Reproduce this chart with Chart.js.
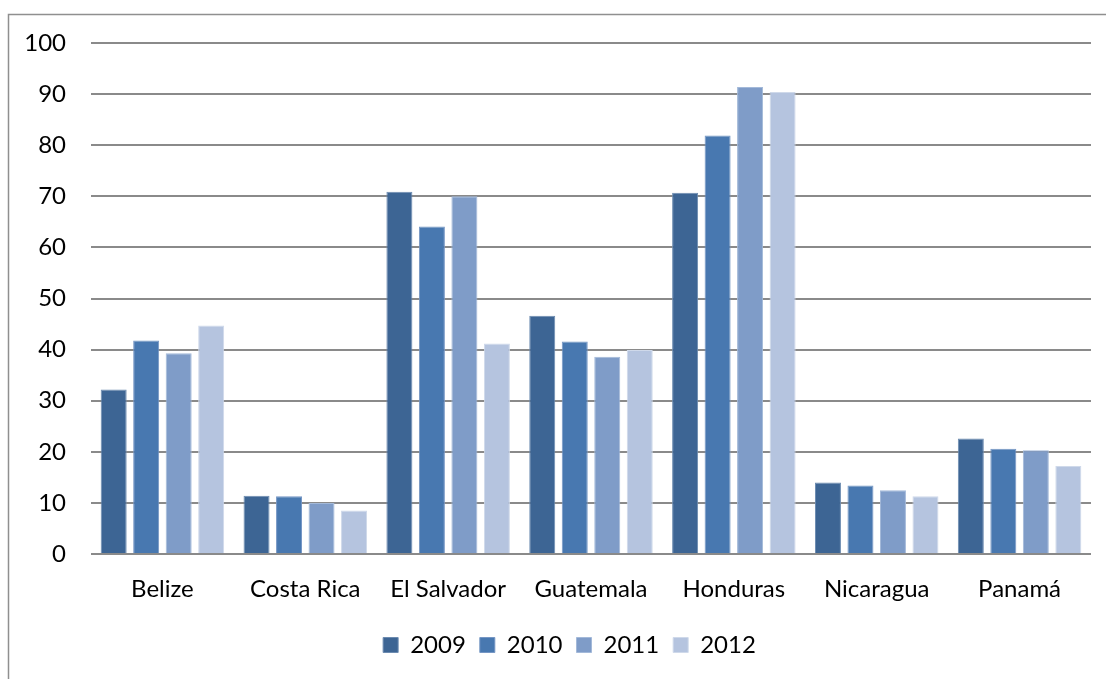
<!DOCTYPE html>
<html>
<head>
<meta charset="utf-8">
<script src="https://cdn.jsdelivr.net/npm/chart.js@4"></script>
<style>
    html, body { margin: 0; padding: 0; background: #fff; }
    #wrap { width: 1106px; height: 679px; position: relative; }
</style>
</head>
<body>
<div id="wrap"><canvas id="myChart" width="1106" height="679"></canvas></div>
<script>
'use strict';
var countries = ['Belize', 'Costa Rica', 'El Salvador', 'Guatemala', 'Honduras', 'Nicaragua', 'Panamá'];
var years = ['2009', '2010', '2011', '2012'];
var values2009 = [32.2, 11.4, 70.9, 46.6, 70.7, 14.0, 22.6];
var values2010 = [41.8, 11.3, 64.1, 41.6, 81.9, 13.4, 20.6];
var values2011 = [39.3, 10.0, 70.0, 38.6, 91.4, 12.5, 20.3];
var values2012 = [44.7, 8.5, 41.2, 39.9, 90.4, 11.3, 17.2];
var yTicks = [0, 10, 20, 30, 40, 50, 60, 70, 80, 90, 100];

var colors = ['#3d6594', '#4878b0', '#7f9cc8', '#b5c4df'];
var edges = ['#6c8bb0', '#7596c4', '#a3b9d9', '#cfd9ea'];
var series = [values2009, values2010, values2011, values2012];

var font = "Lato, 'Open Sans', sans-serif";

// outer frame like the excel chart area
var frame = {
    id: 'frame',
    beforeDraw: function (chart) {
        var ctx = chart.ctx;
        ctx.save();
        ctx.fillStyle = '#fff';
        ctx.fillRect(0, 0, chart.width, chart.height);
        ctx.strokeStyle = '#8f8f8f';
        ctx.lineWidth = 1.5;
        ctx.strokeRect(8.5, 14.5, chart.width + 20, chart.height + 20);
        ctx.restore();
    }
};

// excel centres the legend under the plot, not the whole canvas
var legendShift = {
    id: 'legendShift',
    afterLayout: function (chart) {
        chart.legend.left += 48;
    }
};

var ctx = document.getElementById('myChart');
var myChart = new Chart(ctx, {
    type: 'bar',
    data: {
        labels: countries,
        datasets: years.map(function (y, i) {
            return {
                label: y,
                data: series[i],
                backgroundColor: colors[i],
                borderColor: edges[i],
                borderWidth: 1,
                categoryPercentage: 0.91,
                barPercentage: 0.8
            };
        })
    },
    options: {
        responsive: false,
        animation: false,
        layout: { padding: { left: 0, right: 15, top: 43, bottom: 12 } },
        plugins: {
            tooltip: { enabled: false },
            legend: {
                position: 'bottom',
                labels: {
                    color: '#000',
                    font: { family: font, size: 24 },
                    boxWidth: 15,
                    boxHeight: 15,
                    padding: 14
                }
            }
        },
        scales: {
            x: {
                grid: { display: false, drawTicks: false },
                border: { display: false },
                ticks: { color: '#000', font: { family: font, size: 24 }, padding: 21, maxRotation: 0 },
                afterFit: function (scale) { scale.height = 65; }
            },
            y: {
                min: 0,
                max: 100,
                afterBuildTicks: function (scale) {
                    scale.ticks = yTicks.map(function (v) { return { value: v }; });
                },
                grid: { color: '#8a8a8a', lineWidth: 2, drawTicks: false },
                border: { display: false },
                ticks: { color: '#000', font: { family: font, size: 24 }, padding: 25 },
                afterFit: function (scale) { scale.width = 91; }
            }
        }
    },
    plugins: [frame, legendShift]
});
</script>
</body>
</html>
